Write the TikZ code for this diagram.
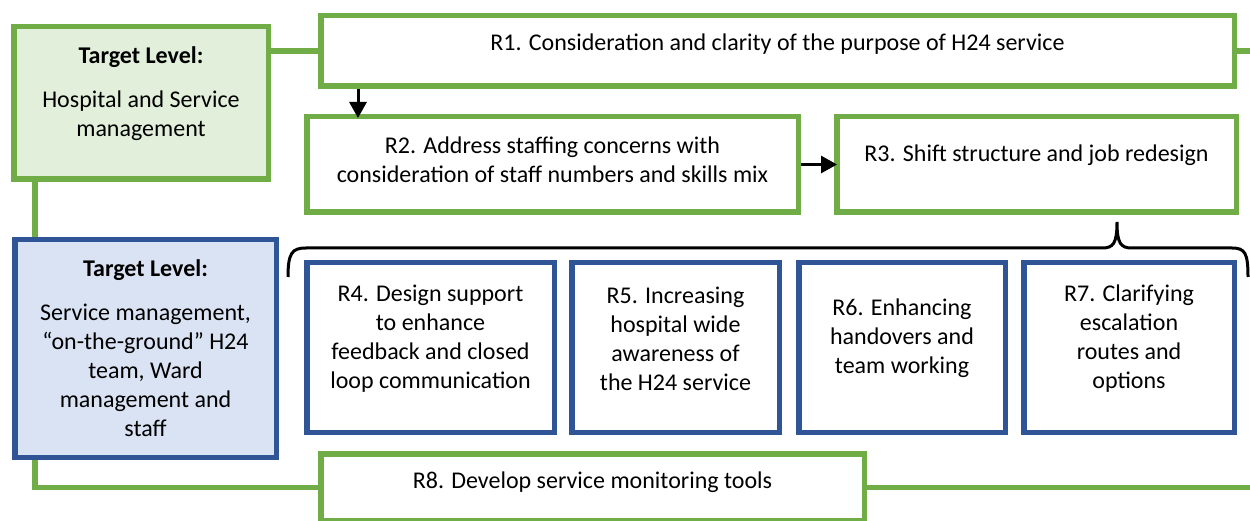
\documentclass[tikz,border=0pt]{standalone}
\usepackage{fontspec}
\setmainfont{Carlito}
\usetikzlibrary{arrows.meta,backgrounds}
\definecolor{lvlgreen}{HTML}{70AD47}
\definecolor{lvlgreenfill}{HTML}{E2EFDA}
\definecolor{lvlblue}{HTML}{2F5597}
\definecolor{lvlbluefill}{HTML}{DAE3F3}

\begin{document}
\begin{tikzpicture}[x=1pt,y=-1pt,
  every node/.style={font=\fontsize{24}{29}\selectfont},
  every label/.style={align=center, inner sep=0pt},
  gbox/.style={rectangle, draw=lvlgreen, line width=5.5pt, fill=white, inner sep=0pt},
  bbox/.style={rectangle, draw=lvlblue, line width=5.5pt, fill=white, inner sep=0pt},
  link/.style={draw=lvlgreen, line width=5.5pt},
  flow/.style={draw=black, line width=3pt, -{Triangle[length=16pt,width=17pt]}},
  bracket/.style={draw=black, line width=3pt},
  lift/.style={yshift=#1},
]
\useasboundingbox (0,0) rectangle (1250,521);
\clip (0,0) rectangle (1250,521);

% helper coordinates for the vertical spine, the arrow drop and the right rim
\coordinate (spine) at (35,0);
\coordinate (drop) at (358,0);
\coordinate (rim) at (1250,0);

% target level boxes
\node[gbox, fill=lvlgreenfill, minimum width=254.5pt, minimum height=152.5pt,
      label={[lift=9.5pt]center:{\textbf{Target Level:}\\[15pt]Hospital and Service\\management}}]
      (T1) at (141,103) {};
\node[bbox, fill=lvlbluefill, minimum width=261.5pt, minimum height=217.5pt,
      label={[lift=0pt]center:{\textbf{Target Level:}\\[15pt]Service management,\\“on-the-ground” H24\\team, Ward\\management and\\staff}}]
      (T2) at (145.5,348.5) {};

% recommendation boxes
\node[gbox, minimum width=913.5pt, minimum height=70.5pt,
      label={[lift=7pt]center:{R1. Consideration and clarity of the purpose of H24 service}}]
      (R1) at (777.5,51) {};
\node[gbox, minimum width=491.5pt, minimum height=95.5pt,
      label={[lift=4.5pt]center:{R2. Address staffing concerns with\\consideration of staff numbers and skills mix}}]
      (R2) at (552.5,164.5) {};
\node[gbox, minimum width=399.5pt, minimum height=95.5pt,
      label={[lift=9.5pt]center:{R3. Shift structure and job redesign}}]
      (R3) at (1036.5,164.5) {};

\node[bbox, minimum width=247.5pt, minimum height=169.5pt,
      label={[lift=9pt]center:{R4. Design support\\to enhance\\feedback and closed\\loop communication}}]
      (R4) at (430.5,347.5) {};
\node[bbox, minimum width=207.5pt, minimum height=169.5pt,
      label={[lift=9pt]center:{R5. Increasing\\hospital wide\\awareness of\\the H24 service}}]
      (R5) at (675.5,347.5) {};
\node[bbox, minimum width=206.5pt, minimum height=169.5pt,
      label={[lift=9pt]center:{R6. Enhancing\\handovers and\\team working}}]
      (R6) at (902,347.5) {};
\node[bbox, minimum width=210.5pt, minimum height=169.5pt,
      label={[lift=9pt]center:{R7. Clarifying\\escalation\\routes and\\options}}]
      (R7) at (1129,347.5) {};

\node[gbox, minimum width=543.5pt, minimum height=67.25pt,
      label={[lift=5pt]center:{R8. Develop service monitoring tools}}]
      (R8) at (592.5,487.4) {};

% green connectors, kept behind the boxes
\begin{pgfonlayer}{background}
  \draw[link] (T1.east |- R1.west) -- (R1.west);
  \draw[link] (R1.east) -- (R1.east -| rim);
  \draw[link] (T1.south -| spine) -- (T2.north -| spine);
  \draw[link] (T2.south -| spine) |- (R8.west);
  \draw[link] (R8.east) -- (R8.east -| rim);
\end{pgfonlayer}

% flow arrows
\draw[flow, shorten >=-4pt] (R1.south -| drop) -- (R2.north -| drop);
\draw[flow, shorten >=-3pt] (R2.east) -- (R3.west);

% bracket gathering R4 to R7 under R3
\coordinate (brL) at (288,277);
\coordinate (brTip) at (1117,222);
\coordinate (brR) at (1248,277);
\draw[bracket] (brL) .. controls (288,253) and (292,248) .. (306,248)
  -- (1102,248) .. controls (1113,248) and (1117,244) .. (brTip)
  .. controls (1117,244) and (1121,248) .. (1132,248)
  -- (1232,248) .. controls (1245,248) and (1248,253) .. (brR);
\end{tikzpicture}
\end{document}
